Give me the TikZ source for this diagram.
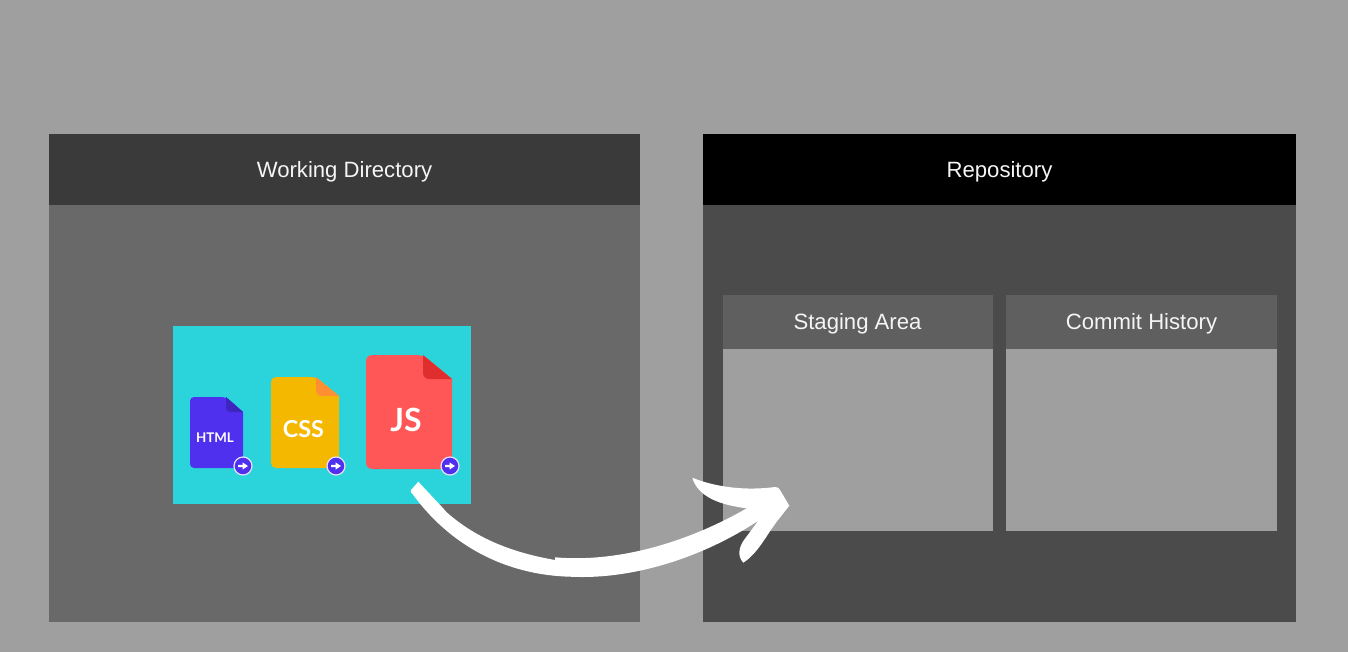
\documentclass[tikz,border=0pt]{standalone}
\usepackage{fontspec}
\setmainfont{Liberation Sans}
\newfontfamily\filefont{Lato}
\definecolor{bgc}{HTML}{9F9F9F}
\definecolor{leftbody}{HTML}{696969}
\definecolor{lefthead}{HTML}{3A3A3A}
\definecolor{rightbody}{HTML}{4B4B4B}
\definecolor{subhead}{HTML}{5F5F5F}
\definecolor{teal}{HTML}{2BD4DB}
\definecolor{bluef}{HTML}{4F30EE}
\definecolor{bluefold}{HTML}{3D25BE}
\definecolor{yellowf}{HTML}{F5B800}
\definecolor{yellowfold}{HTML}{FF8F33}
\definecolor{redf}{HTML}{FF5757}
\definecolor{redfold}{HTML}{E02E2E}
\tikzset{
  head/.style={text=white!96!black,font=\fontsize{16.6}{18}\selectfont,inner sep=0pt,anchor=center},
  ftext/.style={text=white,inner sep=0pt,anchor=center},
  badge/.style={circle,fill=bluef,draw=white!85!bluef,line width=0.9pt,minimum size=13.5pt,inner sep=0pt},
  badgearrow/.style={fill=white}
}
% #1 x0, #2 y0, #3 x1, #4 y1, #5 fold x, #6 fold y, #7 body, #8 fold colour, #9 radius (px)
\newcommand{\filedoc}[9]{%
  \fill[#7,rounded corners=#9*0.75pt] (#1,#4) -- (#1,#2) -- (#5,#2) [sharp corners] -- (#3,#6) [rounded corners=#9*0.75pt] -- (#3,#4) -- cycle;
  \fill[#8,rounded corners=#9*0.75pt] (#5,#2) [sharp corners] -- (#3,#6) [rounded corners=#9*0.75pt] -- (#5,#6) [sharp corners] -- cycle;
}
\newcommand{\badgeat}[3]{%
  \node[badge] (#1) at (#2,#3) {};
  \fill[badgearrow] (#2-5,#3-1.2) -- (#2-0.5,#3-1.2) -- (#2-0.5,#3-3.6) -- (#2+5,#3) -- (#2-0.5,#3+3.6) -- (#2-0.5,#3+1.2) -- (#2-5,#3+1.2) -- cycle;
}
\begin{document}
\begin{tikzpicture}[x=0.75pt,y=-0.75pt]
\useasboundingbox (0,0) rectangle (1348,652);
\fill[bgc] (0,0) rectangle (1348,652);
% left panel
\fill[leftbody] (49,134) rectangle (640,622);
\fill[lefthead] (49,134) rectangle (640,205);
\node[head] (wd) at (344.5,171.5) {Working Directory};
% right panel
\fill[rightbody] (703,134) rectangle (1296,622);
\fill[black] (703,134) rectangle (1296,205);
\node[head] (repo) at (999.5,171.5) {Repository};
% staging
\fill[bgc] (723,295) rectangle (993,531);
\fill[subhead] (723,295) rectangle (993,349);
\node[head] (stage) at (857.5,324) {Staging Area};
% commit
\fill[bgc] (1006,295) rectangle (1277,531);
\fill[subhead] (1006,295) rectangle (1277,349);
\node[head] (commit) at (1141.5,324) {Commit History};
% files
\fill[teal] (173,326) rectangle (471,504);
\filedoc{190}{397}{243}{468}{226}{412}{bluef}{bluefold}{4}
\node[ftext,font=\filefont\bfseries\fontsize{10}{11}\selectfont] (html) at (215,438) {HTML};
\badgeat{b1}{243}{466}
\filedoc{271}{377}{339}{468}{316}{396}{yellowf}{yellowfold}{5}
\node[ftext,font=\filefont\bfseries\fontsize{17.5}{18}\selectfont] (css) at (303.5,429.5) {CSS};
\badgeat{b2}{336}{466}
\filedoc{366}{355}{452}{469}{423}{379}{redf}{redfold}{6}
\node[ftext,font=\filefont\bfseries\fontsize{24}{25}\selectfont] (js) at (406,419.5) {JS};
\badgeat{b3}{450}{466}
% hand-drawn arrow
\fill[white] (418.3,481.7)
  -- (441.7,506.7) -- (446.7,512.3)
  .. controls (478,540) and (515,553) .. (555,560)
  -- (555,557.3)
  .. controls (620,563) and (690,541) .. (746.7,508.3)
  .. controls (720,505) and (698,497) .. (692.3,477.7)
  .. controls (715,487) and (745,491) .. (775,487)
  .. controls (778,487) and (779,488) .. (780,490)
  -- (789.3,505.7) -- (776.7,521.7)
  .. controls (766,536) and (758,553) .. (743.3,562.7)
  .. controls (737,556) and (739,547) .. (744,540)
  -- (758.3,520.7)
  .. controls (705,556) and (635,580) .. (570,576.7)
  .. controls (505,575) and (450,545) .. (413.3,495)
  .. controls (411,493) and (410,491) .. (411,490)
  -- cycle;
\end{tikzpicture}
\end{document}
